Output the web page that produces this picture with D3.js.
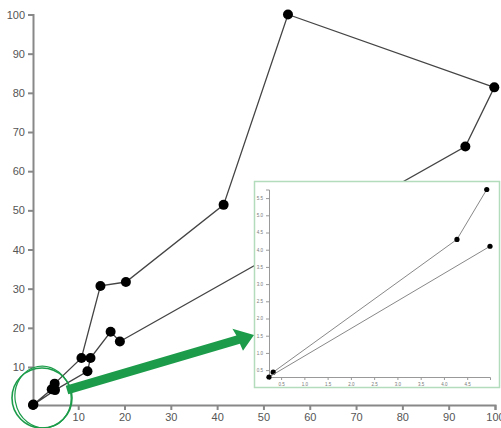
<!DOCTYPE html>
<html><head><meta charset="utf-8">
<script src="https://cdn.jsdelivr.net/npm/d3@7"></script>
<style>
body{margin:0;background:#fff;}
svg{display:block;font-family:Arial, "Liberation Sans", sans-serif;}
.main .tick text{fill:#555;font-size:11px;}
.main .domain,.main .tick line{stroke:#888;stroke-width:2;}
.inset .tick text{fill:#777;font-size:4.5px;}
.inset .domain,.inset .tick line{stroke:#999;stroke-width:1;}
</style></head>
<body>
<svg id="chart" width="501" height="428"></svg>
<script>
// Path of points in drawing order
const pathX = [0.33, 4.28, 4.92, 10.7, 14.8, 20.3, 41.4, 55.3, 99.85, 93.6, 19.0, 17.0, 12.66, 12.0, 4.99, 0.24];
const pathY = [0.44, 4.3, 5.75, 12.3, 30.7, 31.7, 51.4, 100, 81.4, 66.3, 16.5, 19.0, 12.3, 8.9, 4.1, 0.3];
// Inset (zoom of the region near origin) series
const insetA_X = [0.33, 4.28, 4.92];
const insetA_Y = [0.44, 4.3, 5.75];
const insetB_X = [0.24, 4.99];
const insetB_Y = [0.3, 4.1];
const xAxisMax = 100, yAxisMax = 100;

const svg = d3.select("#chart");
const pts = pathX.map((x,i)=>({x, y:pathY[i]}));

// Main chart
const x = d3.scaleLinear().domain([d3.min(pathX), xAxisMax]).range([33, 495]);
const y = d3.scaleLinear().domain([d3.min(pathY), yAxisMax]).range([405, 14.5]);

const main = svg.append("g").attr("class","main");
main.append("g").attr("transform","translate(0,405)")
  .call(d3.axisBottom(x).ticks(10).tickSize(5));
main.append("g").attr("transform","translate(33,0)")
  .call(d3.axisLeft(y).ticks(10).tickSize(5));
main.selectAll(".tick text").attr("font-family","Arial, 'Liberation Sans', sans-serif");

const line = d3.line().x(d=>x(d.x)).y(d=>y(d.y));
main.append("path").datum(pts).attr("d", line)
  .attr("fill","none").attr("stroke","#444").attr("stroke-width",1.3);
main.selectAll("circle.pt").data(pts).join("circle").attr("class","pt")
  .attr("cx",d=>x(d.x)).attr("cy",d=>y(d.y)).attr("r",5).attr("fill","#000");

// Inset
const ins = svg.append("g").attr("class","inset");
ins.append("rect").attr("x",254.5).attr("y",181.5).attr("width",245).attr("height",206)
  .attr("fill","#fff").attr("stroke","#b3dcbd").attr("stroke-width",1.5);
const allIX = insetA_X.concat(insetB_X), allIY = insetA_Y.concat(insetB_Y);
const xi = d3.scaleLinear().domain(d3.extent(allIX)).range([269, 490]);
const yi = d3.scaleLinear().domain(d3.extent(allIY)).range([377, 189.5]);
ins.append("g").attr("transform","translate(0,377)")
  .call(d3.axisBottom(xi).ticks(10).tickSize(3).tickFormat(d3.format(".1f")));
ins.append("g").attr("transform","translate(269,0)")
  .call(d3.axisLeft(yi).ticks(10).tickSize(3).tickFormat(d3.format(".1f")));
const li = d3.line().x(d=>xi(d.x)).y(d=>yi(d.y));
[[insetA_X,insetA_Y],[insetB_X,insetB_Y]].forEach(([xs,ys])=>{
  const p = xs.map((v,i)=>({x:v,y:ys[i]}));
  ins.append("path").datum(p).attr("d",li).attr("fill","none").attr("stroke","#888").attr("stroke-width",1);
  ins.selectAll(null).data(p).join("circle").attr("cx",d=>xi(d.x)).attr("cy",d=>yi(d.y)).attr("r",2.6).attr("fill","#000");
});

// Annotations: hand-drawn circle and arrow
const green = "#1c9c4a";
const ann = svg.append("g");
ann.append("ellipse").attr("cx",42).attr("cy",398).attr("rx",30).attr("ry",30)
  .attr("fill","none").attr("stroke",green).attr("stroke-width",1.6);
ann.append("ellipse").attr("cx",43).attr("cy",397).attr("rx",28).attr("ry",31)
  .attr("fill","none").attr("stroke",green).attr("stroke-width",1.2)
  .attr("transform","rotate(-10,43,397)");
const ax0=67, ay0=390, ax1=254, ay1=335;
const ang = Math.atan2(ay1-ay0, ax1-ax0)*180/Math.PI;
const len = Math.hypot(ax1-ax0, ay1-ay0);
const ag = ann.append("g").attr("transform",`translate(${ax0},${ay0}) rotate(${ang})`);
ag.append("path").attr("fill",green)
  .attr("d",`M0,-4.5 L${len-17},-4.5 L${len-19},-12 L${len},0 L${len-15},12 L${len-16},4.5 L0,4.5 Z`);
</script>
</body></html>
